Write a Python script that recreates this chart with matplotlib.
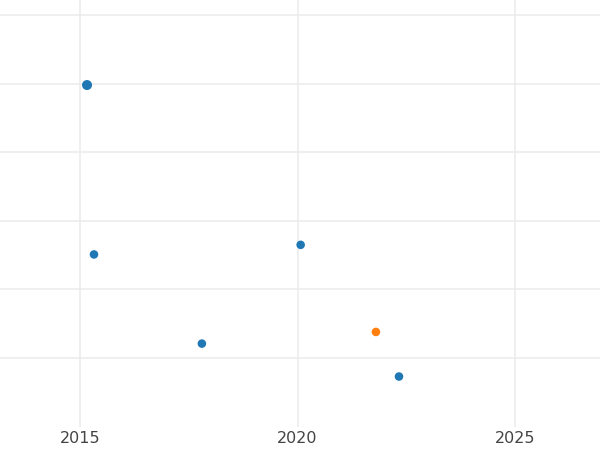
import matplotlib
matplotlib.use("Agg")
import matplotlib.pyplot as plt

# points
years = [2015.16, 2015.32, 2020.07, 2017.80, 2021.80, 2022.33]
values = [4.98, 2.51, 2.65, 1.21, 1.38, 0.73]
colors = ['#1f77b4', '#1f77b4', '#1f77b4', '#1f77b4', '#ff7f0e', '#1f77b4']
sizes = [52, 38, 38, 38, 38, 38]

xticks = [2015, 2020, 2025]
ygrid = [1, 2, 3, 4, 5, 6]

fig = plt.figure(figsize=(6, 4.5), dpi=100)
ax = fig.add_axes([0, 1 - 427 / 450, 1, 427 / 450])

ax.scatter(years, values, s=sizes, c=colors, zorder=3, linewidths=0)

ax.set_xlim(2013.16, 2026.95)
ax.set_ylim(-0.006, 6.22)
ax.set_xticks(xticks)
ax.set_xticklabels([str(t) for t in xticks])
ax.set_yticks(ygrid)
ax.set_yticklabels([])
ax.grid(True, color='#ebebeb', linewidth=1.1)
ax.set_axisbelow(True)
ax.tick_params(length=0, labelsize=11.5, labelcolor='#444444', pad=3)
for s in ax.spines.values():
    s.set_visible(False)

fig.savefig('out.png', dpi=100)
